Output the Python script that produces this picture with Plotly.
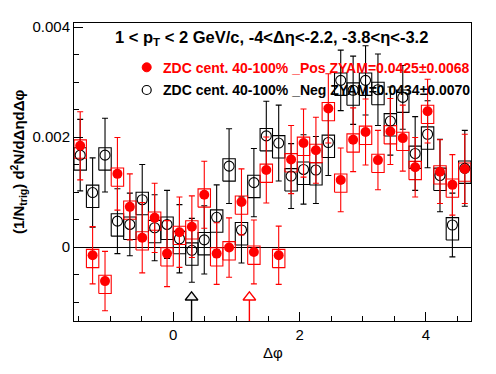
import numpy as np
import plotly.graph_objects as go

# ---------------- data ----------------
n_bins = 32
phi_lo, phi_hi = -np.pi / 2, 3 * np.pi / 2
bin_w = (phi_hi - phi_lo) / n_bins
dphi = [phi_lo + bin_w * (i + 0.5) for i in range(n_bins)]

pos_y = [0.00184, -0.00015, -0.00062, 0.00133, 0.00073, 0.00017, 0.00053, -0.00012,
         0.00027, 0.00037, 0.00095, -0.00012, -0.00001, 0.00082, -0.00009, 0.00140,
         -0.00015, 0.00159, 0.00189, 0.00176, 0.00252, 0.00122, 0.00195, 0.00209,
         0.00158, 0.00210, 0.00198, 0.00145, 0.00247, 0.00137, 0.00113, 0.00142]
pos_err = [0.00062, 0.00052, 0.00054, 0.00066, 0.00060, 0.00064, 0.00063, 0.00060,
           0.00064, 0.00056, 0.00061, 0.00056, 0.00054, 0.00060, 0.00058, 0.00060,
           0.00053, 0.00062, 0.00062, 0.00060, 0.00063, 0.00058, 0.00058, 0.00060,
           0.00054, 0.00060, 0.00060, 0.00054, 0.00058, 0.00058, 0.00055, 0.00063]
neg_y = [0.00167, 0.00099, 0.00167, 0.00047, 0.00041, 0.00086, 0.00035, 0.00041,
         0.00015, -0.00006, 0.00013, 0.00054, 0.00147, 0.00031, 0.00117, 0.00202,
         0.00189, 0.00129, 0.00141, 0.00140, 0.00190, 0.00303, 0.00285, 0.00303,
         0.00286, 0.00229, 0.00272, 0.00170, 0.00205, 0.00130, 0.00040, 0.00143]
neg_err = [0.00065, 0.00063, 0.00067, 0.00059, 0.00057, 0.00064, 0.00060, 0.00062,
           0.00062, 0.00058, 0.00062, 0.00059, 0.00068, 0.00060, 0.00062, 0.00063,
           0.00069, 0.00059, 0.00063, 0.00061, 0.00060, 0.00055, 0.00062, 0.00063,
           0.00065, 0.00062, 0.00058, 0.00067, 0.00061, 0.00066, 0.00058, 0.00069]
# systematic (asymmetric) box extents
pos_sys_up, pos_sys_down = 0.000108, 0.000225
neg_sys_up, neg_sys_down = 0.000135, 0.000272

# ZYAM minimum positions (arrows)
zyam_x = [0.29, 1.205]
zyam_y = -0.000913
zyam_colors = ["black", "red"]
zyam_fill = ["#eeeeee", "white"]

title_text = "1 < p<sub>T</sub> < 2 GeV/c, -4<Δη<-2.2, -3.8<η<-3.2"
leg_pos = "ZDC cent. 40-100% _Pos ZYAM=0.0425±0.0068"
leg_neg = "ZDC cent. 40-100% _Neg ZYAM=0.0434±0.0070"

y_lo, y_hi = -0.001345, 0.004073
FONT = "Liberation Sans, Arial, Helvetica, sans-serif"


def boxes(xc, yc, up, down):
    xs, ys = [], []
    for x, y in zip(xc, yc):
        x0, x1 = x - bin_w / 2, x + bin_w / 2
        y0, y1 = y - down, y + up
        xs += [x0, x1, x1, x0, x0, None]
        ys += [y0, y0, y1, y1, y0, None]
    return xs, ys


fig = go.Figure()

bx, by = boxes(dphi, neg_y, neg_sys_up, neg_sys_down)
fig.add_trace(go.Scatter(x=bx, y=by, mode="lines", line=dict(color="black", width=1.1),
                         hoverinfo="skip", showlegend=False))
bx, by = boxes(dphi, pos_y, pos_sys_up, pos_sys_down)
fig.add_trace(go.Scatter(x=bx, y=by, mode="lines", line=dict(color="red", width=1.1),
                         hoverinfo="skip", showlegend=False))

fig.add_trace(go.Scatter(
    x=dphi, y=neg_y, mode="markers",
    marker=dict(symbol="circle-open", size=10, color="black", line=dict(width=1.1)),
    error_y=dict(type="data", array=neg_err, color="black", thickness=1.1, width=3),
    showlegend=False))
fig.add_trace(go.Scatter(
    x=dphi, y=pos_y, mode="markers",
    marker=dict(symbol="circle", size=10, color="red"),
    error_y=dict(type="data", array=pos_err, color="red", thickness=1.1, width=3),
    showlegend=False))

# ZYAM arrows
for xv, c, f in zip(zyam_x, zyam_colors, zyam_fill):
    fig.add_trace(go.Scatter(x=[xv, xv], y=[zyam_y, y_lo], mode="lines",
                             line=dict(color=c, width=1.4), showlegend=False,
                             hoverinfo="skip"))
    fig.add_trace(go.Scatter(x=[xv], y=[zyam_y], mode="markers",
                             marker=dict(symbol="triangle-up", size=11, color=f,
                                         line=dict(color=c, width=1.3)),
                             showlegend=False, hoverinfo="skip"))

fig.update_layout(
    width=496, height=374,
    margin=dict(l=74, r=25, t=23, b=53),
    paper_bgcolor="white", plot_bgcolor="white",
    font=dict(family=FONT, color="black", size=14),
    showlegend=False,
)
fig.update_xaxes(
    range=[phi_lo, phi_hi], showline=True, mirror=True, linecolor="black", linewidth=1,
    ticks="inside", ticklen=9, tickcolor="black", tickmode="linear", tick0=0, dtick=2,
    minor=dict(ticks="inside", ticklen=5, dtick=0.5, tick0=0, tickcolor="black"),
    showgrid=False, zeroline=False, tickfont=dict(size=15, family=FONT),
)
fig.update_yaxes(
    range=[y_lo, y_hi], showline=True, mirror=True, linecolor="black", linewidth=1,
    ticks="inside", ticklen=9, tickcolor="black", tickmode="linear", tick0=0, dtick=0.002,
    minor=dict(ticks="inside", ticklen=5, dtick=0.0005, tick0=0, tickcolor="black"),
    showgrid=False, zeroline=True, zerolinecolor="black", zerolinewidth=1,
    tickfont=dict(size=15, family=FONT),
)

pw, ph = 496 - 74 - 25, 374 - 23 - 53


def px(xp):
    return (xp - 74) / pw


def py(yp):
    return (374 - 53 - yp) / ph


fig.add_annotation(text="<b>" + title_text + "</b>", xref="paper", yref="paper",
                   x=px(113), y=py(38), xanchor="left", yanchor="middle", showarrow=False,
                   font=dict(size=16.5, family=FONT, color="black"))
fig.add_annotation(text="<b>" + leg_pos + "</b>", xref="paper", yref="paper",
                   x=px(160.5), y=py(67.5), xanchor="left", yanchor="middle", showarrow=False,
                   font=dict(size=14, family=FONT, color="red"))
fig.add_annotation(text="<b>" + leg_neg + "</b>", xref="paper", yref="paper",
                   x=px(160.5), y=py(90), xanchor="left", yanchor="middle", showarrow=False,
                   font=dict(size=14, family=FONT, color="black"))
fig.add_shape(type="circle", xref="paper", yref="paper", xsizemode="pixel", ysizemode="pixel",
              xanchor=px(146.7), yanchor=py(67.3), x0=-4.5, x1=4.5, y0=-4.5, y1=4.5,
              fillcolor="red", line=dict(color="red", width=1))
fig.add_shape(type="circle", xref="paper", yref="paper", xsizemode="pixel", ysizemode="pixel",
              xanchor=px(146.7), yanchor=py(90), x0=-4.5, x1=4.5, y0=-4.5, y1=4.5,
              fillcolor="rgba(0,0,0,0)", line=dict(color="black", width=1.2))

fig.add_annotation(text="<b>(1/N<sub>trig</sub>) d<sup>2</sup>N/dΔηdΔφ</b>", xref="paper",
                   yref="paper", x=px(18), y=py(162), xanchor="center", yanchor="middle",
                   textangle=-90, showarrow=False, font=dict(size=15, family=FONT, color="black"))
fig.add_annotation(text="Δφ", xref="paper", yref="paper", x=px(272.5), y=py(352),
                   xanchor="center", yanchor="middle", showarrow=False,
                   font=dict(size=15, family=FONT, color="black"))

fig.write_html("out.html", config={"displayModeBar": False},
               post_script="document.body.style.margin='0';document.body.style.padding='0';")
